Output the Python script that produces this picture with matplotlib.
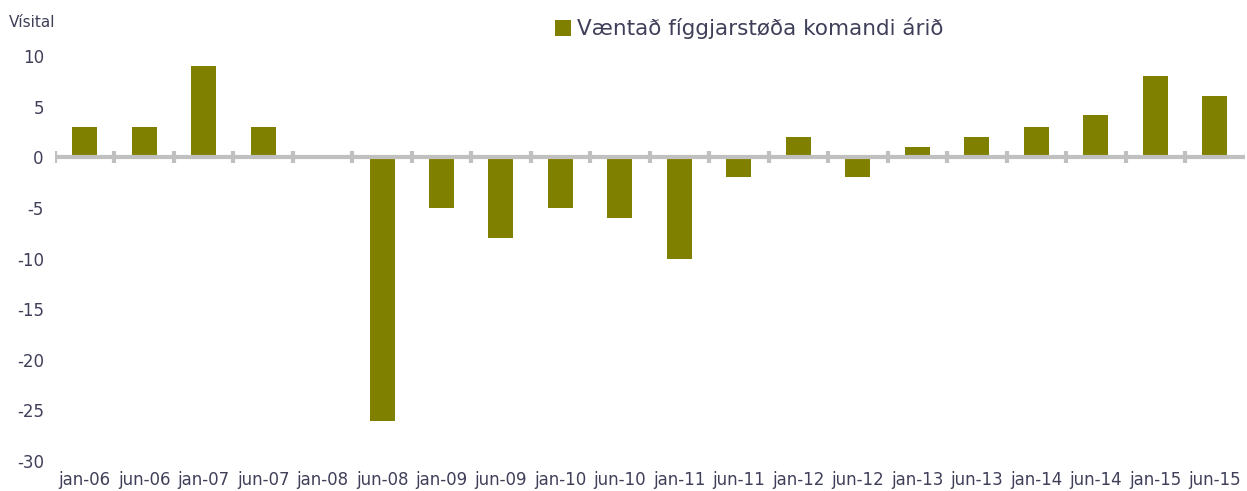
import numpy as np
import matplotlib.pyplot as plt

# data
periods = ["jan-06", "jun-06", "jan-07", "jun-07", "jan-08", "jun-08", "jan-09", "jun-09",
           "jan-10", "jun-10", "jan-11", "jun-11", "jan-12", "jun-12", "jan-13", "jun-13",
           "jan-14", "jun-14", "jan-15", "jun-15"]
values = [3, 3, 9, 3, 0, -26, -5, -8, -5, -6, -10, -2, 2, -2, 1, 2, 3, 4.2, 8, 6]
series_name = "Væntað fíggjarstøða komandi árið"
y_ticks = [10, 5, 0, -5, -10, -15, -20, -25, -30]

bar_color = "#808000"
text_color = "#3f3f5a"
axis_color = "#c0c0c0"

plt.rcParams['font.family'] = ['DejaVu Sans']

fig = plt.figure(figsize=(12.47, 4.91), dpi=100)
ax = fig.add_axes([0.044, 0.061, 0.954, 0.825])

x = np.arange(len(periods))
ax.bar(x, values, width=0.42, color=bar_color, label=series_name, zorder=2)

ax.set_xlim(-0.5, len(periods) - 0.5)
ax.set_ylim(-30, 10)

# zero line with category separators
ax.axhline(0, color=axis_color, lw=3, zorder=3)
ax.vlines(np.arange(len(periods)) - 0.5, -0.6, 0.6, color=axis_color, lw=3, zorder=3)

for s in ax.spines.values():
    s.set_visible(False)

ax.set_xticks(x)
ax.set_xticklabels(periods, fontsize=12, color=text_color)
ax.set_yticks(y_ticks)
ax.set_yticklabels([str(v) for v in y_ticks], fontsize=12, color=text_color)
ax.tick_params(axis='both', length=0)
ax.tick_params(axis='x', pad=7)
ax.tick_params(axis='y', pad=8)

fig.text(0.007, 0.955, "Vísital", fontsize=11, color=text_color, va='center', ha='left')

leg = ax.legend(loc='center left', bbox_to_anchor=(0.438, 0.942), bbox_transform=fig.transFigure,
                frameon=False, fontsize=15.5, handlelength=0.75, handleheight=0.75,
                handletextpad=0.3, borderaxespad=0)
for t in leg.get_texts():
    t.set_color(text_color)

fig.savefig("out.png", dpi=100)
